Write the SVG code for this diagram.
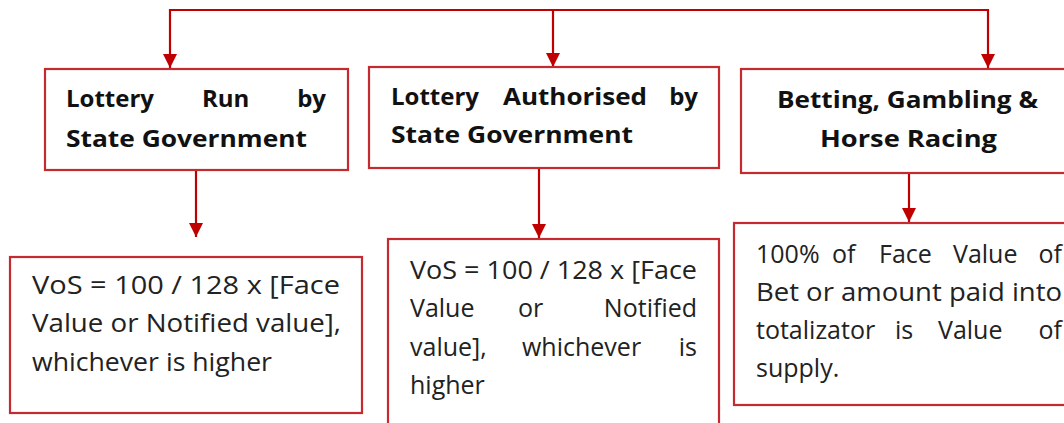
<svg xmlns="http://www.w3.org/2000/svg" width="1064" height="423" viewBox="0 0 1064 423">
<defs>
<marker id="ah" markerWidth="14" markerHeight="14" viewBox="0 0 14 14" refX="14" refY="7" orient="auto" markerUnits="userSpaceOnUse">
<path d="M0,0 L14,7 L0,14 z" fill="#c00000"/>
</marker>
<style>
.box{fill:#fff;stroke:#c42a2f;stroke-width:2.2}
.con{fill:none;stroke:#c00000;stroke-width:2.2}
.h{font-family:"Open Sans","Liberation Sans",sans-serif;font-weight:700;font-size:24px;fill:#111}
.b{font-family:"Open Sans","Liberation Sans",sans-serif;font-size:25px;fill:#222}
</style>
</defs>
<rect width="1064" height="423" fill="#fff"/>
<g id="connectors">
<path class="con" d="M170,10 H988"/>
<path class="con" d="M170,9 V68" marker-end="url(#ah)"/>
<path class="con" d="M553,10 V67" marker-end="url(#ah)"/>
<path class="con" d="M988,9 V68" marker-end="url(#ah)"/>
<path class="con" d="M196,171 V237" marker-end="url(#ah)"/>
<path class="con" d="M539,169 V238" marker-end="url(#ah)"/>
<path class="con" d="M909,173 V222" marker-end="url(#ah)"/>
</g>
<g id="n1">
<rect class="box" x="45" y="69" width="303" height="101"/>
<text class="h" x="66" y="107">Lottery</text>
<text class="h" x="202" y="107">Run</text>
<text class="h" x="326" y="107" text-anchor="end">by</text>
<text class="h" x="66" y="147" textLength="241" lengthAdjust="spacingAndGlyphs">State Government</text>
</g>
<g id="n2">
<rect class="box" x="369" y="67" width="350" height="101"/>
<text class="h" x="391" y="105">Lottery</text>
<text class="h" x="503" y="105" textLength="144" lengthAdjust="spacingAndGlyphs">Authorised</text>
<text class="h" x="698" y="105" text-anchor="end">by</text>
<text class="h" x="391" y="143" textLength="242" lengthAdjust="spacingAndGlyphs">State Government</text>
</g>
<g id="n3">
<rect class="box" x="741" y="69" width="340" height="104"/>
<text class="h" x="777" y="108" textLength="261" lengthAdjust="spacingAndGlyphs">Betting, Gambling &amp;</text>
<text class="h" x="820" y="147" textLength="177" lengthAdjust="spacingAndGlyphs">Horse Racing</text>
</g>
<g id="n4">
<rect class="box" x="10" y="257" width="352" height="156"/>
<text class="b" x="32" y="294" textLength="308" lengthAdjust="spacingAndGlyphs">VoS = 100 / 128 x [Face</text>
<text class="b" x="32" y="332" textLength="309" lengthAdjust="spacingAndGlyphs">Value or Notified value],</text>
<text class="b" x="32" y="371" textLength="240" lengthAdjust="spacingAndGlyphs">whichever is higher</text>
</g>
<g id="n5">
<rect class="box" x="388" y="239" width="331" height="200"/>
<text class="b" x="410" y="279" textLength="287" lengthAdjust="spacingAndGlyphs">VoS = 100 / 128 x [Face</text>
<text class="b" x="410" y="317">Value</text>
<text class="b" x="518" y="317">or</text>
<text class="b" x="697" y="317" text-anchor="end">Notified</text>
<text class="b" x="410" y="356">value],</text>
<text class="b" x="522" y="356">whichever</text>
<text class="b" x="697" y="356" text-anchor="end">is</text>
<text class="b" x="410" y="394">higher</text>
</g>
<g id="n6">
<rect class="box" x="734" y="223" width="350" height="182"/>
<text class="b" x="756" y="263">100%</text>
<text class="b" x="832" y="263">of</text>
<text class="b" x="879" y="263">Face</text>
<text class="b" x="953" y="263">Value</text>
<text class="b" x="1062" y="263" text-anchor="end">of</text>
<text class="b" x="756" y="301" textLength="306" lengthAdjust="spacingAndGlyphs">Bet or amount paid into</text>
<text class="b" x="756" y="339">totalizator</text>
<text class="b" x="895" y="339">is</text>
<text class="b" x="938" y="339">Value</text>
<text class="b" x="1062" y="339" text-anchor="end">of</text>
<text class="b" x="756" y="377">supply.</text>
</g>
</svg>
